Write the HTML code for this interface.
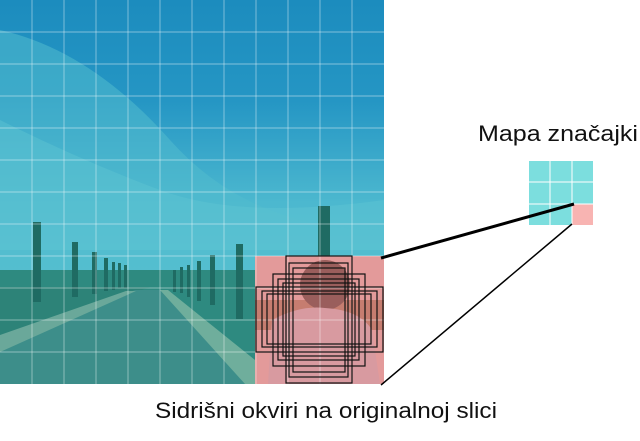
<!DOCTYPE html>
<html><head><meta charset="utf-8"><style>
body{margin:0;background:#fff;width:640px;height:436px;overflow:hidden;font-family:"Liberation Sans",sans-serif}
</style></head><body>
<svg width="640" height="436" viewBox="0 0 640 436">
<defs>
<linearGradient id="sky" x1="0" y1="0" x2="0" y2="1">
<stop offset="0" stop-color="#1c8cbe"/><stop offset="0.35" stop-color="#2596c4"/><stop offset="0.7" stop-color="#4cb8cf"/><stop offset="1" stop-color="#5ac4d2"/></linearGradient>
<clipPath id="pc"><rect x="0" y="0" width="384" height="384"/></clipPath>
</defs>
<g clip-path="url(#pc)">
<rect x="0" y="0" width="384" height="290" fill="url(#sky)"/>
<path d="M0 30 Q90 50 170 140 T384 230 L384 290 L0 290Z" fill="#52bccd" opacity="0.55"/>
<path d="M0 120 Q80 160 160 190 T384 200 L384 250 L0 250Z" fill="#60c6d2" opacity="0.45"/>
<rect x="0" y="270" width="384" height="114" fill="#2e8a80"/>
<polygon points="0,340 150,287 0,287" fill="#2d8378"/>
<polygon points="0,345 135,290 165,290 245,384 0,384" fill="#3d8e8a"/>
<polygon points="0,335 126,291 136,291 0,352" fill="#6aa89a"/>
<polygon points="160,290 168,290 255,360 255,384 245,384" fill="#6fae9c"/>
<g fill="#1f6b63">
<rect x="33" y="222" width="8" height="80"/><rect x="72" y="242" width="6" height="55"/><rect x="92" y="252" width="5" height="42"/>
<rect x="104" y="258" width="4" height="33"/><rect x="112" y="262" width="3" height="28"/><rect x="118" y="263" width="3" height="25"/><rect x="124" y="265" width="3" height="23"/>
<rect x="236" y="244" width="7" height="75"/><rect x="210" y="255" width="5" height="50"/><rect x="197" y="261" width="4" height="40"/>
<rect x="187" y="265" width="3" height="32"/><rect x="180" y="267" width="3" height="26"/><rect x="173" y="270" width="3" height="22"/>
<rect x="318" y="206" width="12" height="60"/>
</g>
<rect x="255" y="256" width="129" height="128" fill="#e39a9a"/>
<rect x="255" y="300" width="129" height="30" fill="#b9705e" opacity="0.7"/>
<ellipse cx="325" cy="285" rx="25" ry="25" fill="#9a5e5c"/>
<path d="M268 384 L272 320 Q300 305 325 308 Q360 310 372 330 L380 384Z" fill="#d89aa0"/>
<g stroke="#fff" stroke-opacity="0.35" stroke-width="1.2">
<line x1="32" y1="0" x2="32" y2="384"/><line x1="64" y1="0" x2="64" y2="384"/><line x1="96" y1="0" x2="96" y2="384"/><line x1="128" y1="0" x2="128" y2="384"/><line x1="160" y1="0" x2="160" y2="384"/><line x1="192" y1="0" x2="192" y2="384"/><line x1="224" y1="0" x2="224" y2="384"/><line x1="256" y1="0" x2="256" y2="384"/><line x1="288" y1="0" x2="288" y2="384"/><line x1="320" y1="0" x2="320" y2="384"/><line x1="352" y1="0" x2="352" y2="384"/>
<line x1="0" y1="32" x2="384" y2="32"/><line x1="0" y1="64" x2="384" y2="64"/><line x1="0" y1="96" x2="384" y2="96"/><line x1="0" y1="128" x2="384" y2="128"/><line x1="0" y1="160" x2="384" y2="160"/><line x1="0" y1="192" x2="384" y2="192"/><line x1="0" y1="224" x2="384" y2="224"/><line x1="0" y1="256" x2="384" y2="256"/><line x1="0" y1="288" x2="384" y2="288"/><line x1="0" y1="320" x2="384" y2="320"/><line x1="0" y1="352" x2="384" y2="352"/>
</g>
<g fill="none" stroke="#111" stroke-width="1.2">
<rect x="286" y="256" width="66" height="127"/><rect x="289" y="263" width="59" height="114"/><rect x="293" y="268" width="52" height="104"/>
<rect x="273" y="274" width="92" height="92"/><rect x="278" y="279" width="81" height="81"/><rect x="283" y="283" width="72" height="73"/>
<rect x="256" y="287" width="127" height="65"/><rect x="262" y="291" width="115" height="56"/><rect x="267" y="294" width="104" height="50"/>
</g>
</g>
<g>
<rect x="529" y="161" width="64" height="64" fill="#7cdede"/>
<rect x="572" y="204" width="21" height="21" fill="#f8b4b2"/>
<g stroke="#fff" stroke-width="1"><line x1="550" y1="161" x2="550" y2="225"/><line x1="572" y1="161" x2="572" y2="225"/><line x1="529" y1="182" x2="593" y2="182"/><line x1="529" y1="204" x2="593" y2="204"/></g>
</g>
<line x1="381" y1="258" x2="574" y2="204" stroke="#000" stroke-width="3"/>
<line x1="381" y1="385" x2="572" y2="224" stroke="#000" stroke-width="1.5"/>
<text x="478" y="141" font-size="22" textLength="160" lengthAdjust="spacingAndGlyphs" fill="#111">Mapa značajki</text>
<text x="155" y="418" font-size="22" textLength="342" lengthAdjust="spacingAndGlyphs" fill="#111">Sidrišni okviri na originalnoj slici</text>
</svg>
</body></html>
